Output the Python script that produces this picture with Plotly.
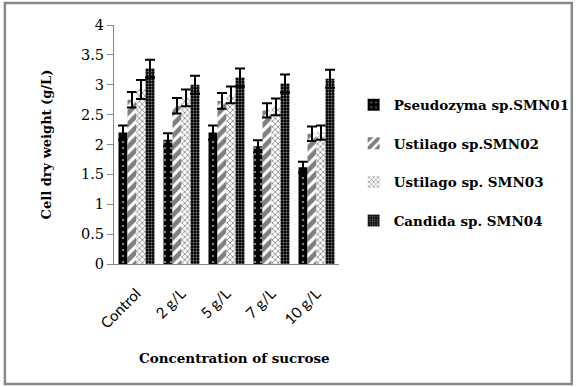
import plotly.graph_objects as go

categories = ["Control", "2 g/L", "5 g/L", "7 g/L", "10 g/L"]
series_names = ["Pseudozyma sp.SMN01", "Ustilago sp.SMN02", "Ustilago sp. SMN03", "Candida sp. SMN04"]
pseudozyma = [2.20, 2.08, 2.20, 1.97, 1.62]
ustilago02 = [2.75, 2.65, 2.73, 2.57, 2.18]
ustilago03 = [2.92, 2.78, 2.83, 2.63, 2.20]
candida = [3.27, 3.00, 3.12, 3.02, 3.10]
err_pseudozyma = [0.12, 0.11, 0.12, 0.10, 0.09]
err_ustilago02 = [0.13, 0.13, 0.13, 0.12, 0.12]
err_ustilago03 = [0.16, 0.14, 0.14, 0.14, 0.12]
err_candida = [0.15, 0.15, 0.15, 0.15, 0.15]
y_ticks = [0, 0.5, 1, 1.5, 2, 2.5, 3, 3.5, 4]
x_title = "Concentration of sucrose"
y_title = "Cell dry weight (g/L)"

values = [pseudozyma, ustilago02, ustilago03, candida]
errors = [err_pseudozyma, err_ustilago02, err_ustilago03, err_candida]
patterns = [
    dict(shape=".", bgcolor="black", fgcolor="white", size=6, solidity=0.12),
    dict(shape="/", bgcolor="white", fgcolor="black", size=8, solidity=0.6),
    dict(shape="x", bgcolor="white", fgcolor="black", size=4, solidity=0.35),
    dict(shape=".", bgcolor="black", fgcolor="white", size=3, solidity=0.35),
]

WIDE_SERIF = "DejaVu Serif, serif"

fig = go.Figure()
for i in range(4):
    fig.add_trace(go.Bar(
        x=categories, y=values[i], name="<b>" + series_names[i] + "</b>",
        marker=dict(color="white", pattern=patterns[i], line=dict(width=0)),
        error_y=dict(type="data", array=errors[i], color="black", thickness=2, width=5),
        legendgroup=str(i),
    ))

W, H = 587, 387
ml, mr, mt, mb = 114, 242, 25, 123
pw, ph = W - ml - mr, H - mt - mb

fig.update_layout(
    width=W, height=H,
    margin=dict(l=ml, r=mr, t=mt, b=mb),
    paper_bgcolor="white", plot_bgcolor="white",
    barmode="group", bargap=0.2, bargroupgap=0.0,
    font=dict(family=WIDE_SERIF, color="black"),
    legend=dict(x=1.065, y=0.73, xanchor="left", yanchor="top",
                font=dict(family=WIDE_SERIF, size=13.5, color="black"),
                tracegroupgap=18, itemwidth=30, bgcolor="rgba(0,0,0,0)"),
    xaxis=dict(
        showline=True, linecolor="#888", linewidth=1,
        ticks="outside", ticklen=14, tickcolor="rgba(0,0,0,0)",
        tickangle=-45, tickfont=dict(family="Lato", size=15, color="black"),
    ),
    yaxis=dict(
        range=[0, 4], tickvals=y_ticks, ticktext=[f"{v:g}" for v in y_ticks],
        showline=True, linecolor="#888", linewidth=1, ticks="outside", ticklen=6,
        tickcolor="#888", showgrid=False, zeroline=False,
        tickfont=dict(family=WIDE_SERIF, size=14.5, color="black"),
        title=dict(text="<b>" + y_title + "</b>",
                   font=dict(family=WIDE_SERIF, size=13, color="black"),
                   standoff=26),
    ),
    annotations=[dict(text="<b>" + x_title + "</b>", xref="paper", yref="paper",
                      x=(238 - ml) / pw, y=-(358 - mt - ph) / ph,
                      xanchor="center", yanchor="middle", showarrow=False,
                      font=dict(family=WIDE_SERIF, size=13.5, color="black"))],
    shapes=[dict(type="rect", xref="paper", yref="paper",
                 x0=(2 - ml) / pw, x1=(W - 3 - ml) / pw,
                 y0=-(H - 3 - ph - mt) / ph, y1=1 + (mt - 3) / ph,
                 line=dict(color="#888", width=2.5), fillcolor="rgba(0,0,0,0)")],
)

fig.write_html("out.html", config={"displayModeBar": False},
               post_script="document.body.style.margin='0';document.body.style.overflow='hidden';")
